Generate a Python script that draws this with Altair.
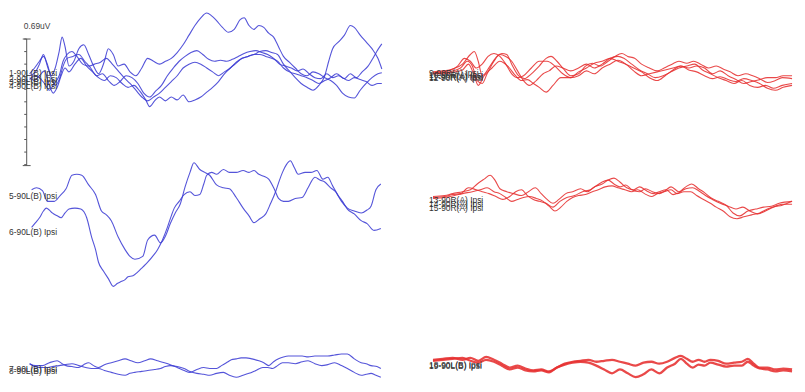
import altair as alt
import pandas as pd

# ---- traces: (position, offset) samples ----
t1 = [(30,68),(35,62),(40,55),(44,50),(48,58),(52,70),(56,62),(60,45),(63,30),(66,40),(70,60),(75,55),(80,42),(85,38),(90,48),(95,60),(100,68),(106,55),(110,42),(115,48),(120,60),(126,58),(132,66),(138,70),(144,62),(150,52),(156,55),(162,58),(168,55),(174,52),(180,46),(186,38),(192,28),(198,18),(204,10),(210,5),(215,8),(220,13),(226,20),(232,25),(238,22),(244,12),(248,10),(253,18),(258,22),(263,18),(268,20),(273,26),(278,30),(283,40),(288,50),(294,56),(300,62),(306,68),(312,70),(318,66),(324,68),(330,72),(336,75),(342,80),(348,88),(354,92),(360,93),(366,85),(372,78),(378,72),(384,68),(388,67)]
t2 = [(30,72),(35,75),(40,70),(45,65),(50,80),(54,88),(58,82),(62,70),(66,62),(70,66),(76,58),(82,52),(88,60),(94,66),(100,72),(106,75),(112,70),(118,72),(124,78),(130,82),(136,80),(142,86),(148,95),(152,102),(157,96),(162,92),(168,96),(174,92),(180,95),(186,90),(192,97),(198,95),(204,92),(210,87),(216,82),(222,76),(228,68),(234,62),(240,57),(246,52),(252,50),(258,48),(264,45),(270,44),(276,46),(282,48),(288,58),(294,65),(300,72),(306,78),(312,82),(318,85),(324,80),(330,70),(334,55),(338,42),(344,35),(350,28),(356,18),(360,20),(366,28),(372,35),(378,42),(384,52),(388,63)]
t3 = [(30,70),(36,66),(40,58),(44,48),(48,60),(52,72),(56,80),(60,74),(64,60),(68,52),(74,50),(80,48),(86,55),(92,62),(98,70),(104,68),(110,75),(116,80),(122,76),(128,70),(134,72),(140,78),(146,88),(152,92),(158,86),(164,80),(170,70),(176,62),(182,55),(188,50),(194,46),(200,44),(206,48),(212,53),(218,55),(224,54),(230,55),(236,53),(242,50),(248,47),(254,45),(260,44),(266,46),(272,48),(278,52),(284,58),(290,60),(296,62),(302,65),(308,63),(314,68),(320,72),(326,73),(332,68),(338,72),(344,70),(350,73),(356,68),(362,72),(368,66),(374,60),(380,50),(384,43),(388,37)]
t4 = [(30,74),(35,70),(40,72),(45,78),(50,85),(55,78),(60,70),(64,55),(68,48),(73,45),(78,50),(84,58),(90,60),(96,58),(102,56),(108,52),(114,58),(120,65),(126,72),(132,78),(138,85),(144,92),(150,96),(156,92),(162,88),(168,82),(174,76),(180,70),(186,62),(192,58),(198,56),(204,58),(210,62),(216,66),(222,70),(228,66),(234,62),(240,56),(246,52),(252,50),(258,48),(264,48),(270,50),(276,52),(282,55),(288,62),(294,66),(300,68),(306,70),(312,72),(318,75),(324,78),(330,75),(336,72),(342,68),(348,72),(354,75),(360,72),(366,74),(372,76),(378,80),(384,78),(388,78)]
t5 = [(32,188),(37,186),(43,189),(48,200),(55,200),(61,194),(67,187),(73,173),(78,172),(83,173),(90,183),(97,193),(103,210),(108,214),(113,220),(120,237),(127,250),(132,257),(137,260),(145,257),(150,240),(157,235),(163,243),(168,236),(173,223),(178,212),(183,203),(188,185),(193,170),(197,160),(203,167),(208,170),(213,173),(220,183),(227,186),(233,187),(240,196),(247,207),(253,215),(258,222),(264,218),(270,213),(275,202),(280,190),(284,178),(287,170),(291,162),(295,158),(299,165),(303,172),(310,170),(316,170),(322,168),(328,177),(333,175),(338,184),(343,193),(348,200),(353,208),(360,213),(367,220),(373,223),(380,230),(387,228)]
t6 = [(32,227),(36,222),(40,217),(44,210),(47,207),(50,209),(53,212),(58,215),(62,217),(66,212),(70,208),(76,207),(82,208),(88,217),(93,237),(97,250),(100,263),(105,272),(110,280),(115,288),(119,285),(123,283),(127,281),(130,278),(135,277),(140,273),(145,268),(150,263),(155,257),(160,250),(165,240),(170,227),(174,215),(177,207),(182,200),(187,193),(193,190),(198,194),(203,193),(207,182),(210,173),(215,170),(220,172),(227,167),(233,170),(240,170),(247,168),(253,170),(258,168),(263,172),(268,174),(273,177),(279,188),(283,197),(288,200),(293,200),(300,197),(307,196),(313,186),(320,175),(325,178),(330,180),(336,186),(341,190),(347,200),(353,207),(360,210),(367,212),(373,209),(377,205),(382,188),(387,182)]
t7 = [(30,368),(36,370),(43,370),(50,367),(58,365),(63,368),(67,370),(73,371),(80,372),(85,369),(90,367),(95,370),(100,372),(106,369),(113,367),(120,365),(127,363),(133,365),(140,367),(147,365),(153,363),(160,365),(167,367),(173,369),(180,372),(187,375),(193,377),(200,374),(207,372),(213,373),(220,373),(225,370),(230,367),(235,364),(240,363),(245,362),(250,362),(256,363),(263,365),(268,367),(273,370),(278,366),(283,363),(288,361),(293,360),(300,360),(307,360),(313,361),(320,360),(327,360),(333,360),(340,359),(347,358),(353,358),(360,363),(367,367),(372,368),(377,370),(383,371),(387,373)]
t8 = [(30,368),(35,371),(40,372),(47,372),(53,371),(60,370),(66,369),(73,368),(80,370),(87,372),(93,373),(100,373),(106,375),(113,377),(120,379),(127,380),(132,378),(137,377),(144,376),(150,375),(157,374),(163,373),(168,371),(173,370),(180,371),(187,373),(193,376),(200,378),(207,379),(213,380),(220,378),(227,377),(233,380),(240,382),(247,380),(253,378),(260,375),(267,372),(272,372),(277,373),(282,370),(287,367),(293,367),(300,368),(307,366),(313,365),(320,368),(327,370),(333,369),(340,367),(347,370),(353,373),(360,377),(367,380),(372,379),(377,378),(382,380),(387,382)]
t9 = [(440,66),(450,65),(460,63),(470,58),(478,48),(482,45),(486,55),(490,70),(498,60),(505,50),(510,47),(515,48),(520,58),(527,70),(533,73),(540,68),(548,60),(555,52),(560,50),(566,55),(572,62),(580,70),(588,68),(595,60),(602,57),(610,60),(618,55),(625,50),(632,47),(638,50),(645,52),(652,58),(660,62),(668,65),(675,62),(683,58),(690,55),(698,57),(705,55),(712,58),(720,62),(728,60),(735,63),(742,66),(750,70),(758,68),(765,70),(772,73),(780,77),(788,75),(795,72),(805,73)]
t10 = [(440,68),(450,67),(460,65),(468,62),(475,55),(480,60),(485,75),(490,78),(495,68),(502,55),(508,48),(514,50),(520,55),(526,65),(532,75),(538,80),(545,75),(552,68),(558,65),(565,60),(572,62),(580,65),(588,62),(596,58),(604,62),(612,58),(620,52),(628,50),(634,52),(642,58),(650,64),(658,68),(666,72),(674,70),(682,66),(690,62),(698,60),(706,58),(714,64),(722,68),(730,72),(738,75),(746,78),(754,75),(762,80),(770,82),(778,80),(786,83),(795,80),(805,78)]
t11 = [(440,67),(450,66),(458,64),(465,60),(472,52),(478,55),(484,62),(490,58),(496,50),(502,47),(508,50),(514,58),(520,68),(526,72),(532,70),(540,62),(548,55),(556,55),(564,60),(572,68),(580,72),(588,66),(596,62),(604,57),(612,55),(620,52),(628,55),(636,58),(644,62),(652,66),(660,72),(668,75),(676,70),(684,64),(692,60),(700,62),(708,60),(716,62),(724,68),(732,65),(740,70),(748,74),(756,78),(764,76),(772,74),(780,72),(788,72),(796,70),(805,70)]
t12 = [(440,68),(452,68),(462,66),(470,64),(476,58),(482,70),(486,80),(492,70),(500,62),(508,55),(516,60),(524,70),(530,75),(536,74),(542,78),(548,82),(555,87),(562,80),(570,72),(580,72),(588,70),(596,65),(604,68),(612,62),(620,58),(628,54),(636,58),(644,65),(652,70),(660,68),(668,66),(676,64),(684,62),(692,60),(700,64),(708,66),(716,70),(724,73),(732,71),(740,74),(748,76),(756,73),(764,75),(772,78),(780,83),(788,85),(796,82),(805,80)]
t13 = [(440,195),(452,194),(460,192),(470,190),(478,188),(485,182),(492,177),(498,173),(503,178),(508,187),(515,190),(522,192),(530,194),(537,190),(544,186),(550,192),(556,198),(562,202),(568,198),(575,192),(582,190),(590,187),(597,190),(604,185),(612,182),(618,178),(624,176),(630,180),(637,186),(644,188),(650,185),(657,189),(664,192),(670,190),(677,188),(684,193),(690,191),(697,187),(704,186),(710,189),(717,194),(724,198),(732,202),(740,205),(748,208),(755,206),(762,210),(770,213),(778,210),(786,206),(795,204),(805,200)]
t14 = [(440,196),(452,195),(460,193),(468,192),(476,186),(484,188),(490,190),(497,192),(504,195),(511,198),(518,195),(524,190),(530,188),(536,194),(542,198),(548,200),(555,202),(562,206),(569,200),(576,196),(584,194),(592,190),(600,188),(606,184),(612,180),(618,178),(624,182),(630,185),(636,183),(642,188),(650,190),(656,187),(663,190),(670,192),(676,189),(682,185),(690,190),(697,185),(703,182),(710,187),(716,191),(722,196),(730,200),(738,204),(745,212),(752,215),(760,210),(768,208),(776,206),(784,205),(792,202),(805,200)]
t15 = [(440,197),(452,196),(462,194),(470,192),(480,190),(488,188),(495,186),(502,190),(508,192),(514,196),(520,200),(526,198),(532,196),(538,195),(545,197),(552,200),(558,205),(564,210),(570,206),(576,200),(582,196),(588,194),(595,193),(602,190),(608,188),(615,185),(622,184),(628,186),(635,188),(642,190),(648,188),(655,192),(662,195),(668,192),(675,190),(682,188),(688,192),(695,190),(702,190),(708,194),(715,198),(722,202),(728,206),(735,210),(742,216),(749,218),(756,216),(764,214),(772,212),(780,208),(788,205),(796,203),(805,203)]
t18 = [(440,364),(450,363),(460,362),(470,364),(478,362),(486,365),(494,361),(502,364),(510,368),(518,372),(526,370),(534,373),(542,375),(550,374),(558,376),(566,372),(574,368),(582,366),(590,365),(598,364),(606,366),(614,365),(622,364),(630,366),(638,368),(646,370),(654,367),(662,366),(670,368),(678,366),(686,362),(692,360),(698,363),(704,366),(710,364),(716,366),(722,364),(730,365),(738,368),(746,367),(754,366),(760,363),(766,368),(772,372),(780,372),(788,374),(796,373),(805,374)]
t19 = [(440,365),(450,364),(460,363),(470,362),(478,365),(486,367),(494,364),(502,366),(510,370),(518,374),(526,372),(534,375),(542,376),(550,375),(558,377),(566,372),(574,369),(582,367),(590,366),(598,367),(606,370),(614,374),(622,378),(630,374),(638,378),(646,382),(654,379),(662,374),(670,378),(678,372),(686,368),(692,363),(698,368),(704,372),(710,369),(716,370),(722,367),(730,369),(738,371),(746,370),(754,370),(760,366),(766,370),(772,373),(780,374),(788,376),(796,375),(805,376)]

trace_names = ["1-90L(B) Ipsi","2-90L(B) Ipsi","3-90L(B) Ipsi","4-90L(B) Ipsi",
               "5-90L(B) Ipsi","6-90L(B) Ipsi","7-90L(B) Ipsi","8-90L(B) Ipsi",
               "9-90R(A) Ipsi","10-90R(A) Ipsi","11-90R(A) Ipsi","12-90R(A) Ipsi",
               "13-90R(A) Ipsi","14-90R(A) Ipsi","15-90R(A) Ipsi",
               "18-90L(B) Ipsi","19-90L(B) Ipsi"]
trace_data = [t1,t2,t3,t4,t5,t6,t7,t8,t9,t10,t11,t12,t13,t14,t15,t18,t19]
trace_side = ["L"]*8 + ["R"]*9

label_x = [9,9,9,9, 9,9, 9,9, 436,436,436,436, 436,436,436, 436,436]
label_y = [67,73,76,81, 195,232, 374,376, 67,69,71,72, 199,203,207, 369,370]

scale_ticks = [32,45,58,71,84,97,110,123,136,149,162]
scale_label = "0.69uV"

BLUE = "#3c3cd4"
RED = "#e63030"

rows = []
for name, pts, side in zip(trace_names, trace_data, trace_side):
    thick = name.startswith("18") or name.startswith("19")
    for i, (x, y) in enumerate(pts):
        rows.append({"trace": name, "i": i, "x": x, "y": y,
                     "col": BLUE if side == "L" else RED,
                     "w": 2.3 if thick else 1.1})
df = pd.DataFrame(rows)

xs = alt.Scale(domain=[8, 805], nice=False, zero=False)
ys = alt.Scale(domain=[8, 384], nice=False, zero=False, reverse=True)

lines = alt.Chart(df).mark_line(interpolate="monotone", opacity=0.88).encode(
    x=alt.X("x:Q", scale=xs, axis=None),
    y=alt.Y("y:Q", scale=ys, axis=None),
    detail="trace:N",
    order="i:Q",
    color=alt.Color("col:N", scale=None),
    strokeWidth=alt.StrokeWidth("w:Q", scale=None),
)

lab_df = pd.DataFrame({"label": trace_names, "x": label_x, "y": label_y})
labels = alt.Chart(lab_df).mark_text(
    align="left", baseline="middle", fontSize=8.5, font="Liberation Sans", color="#333333"
).encode(x=alt.X("x:Q", scale=xs), y=alt.Y("y:Q", scale=ys), text="label:N")

bar_df = pd.DataFrame({"x": [27], "y": [scale_ticks[0]], "y2": [163]})
bar = alt.Chart(bar_df).mark_rule(color="#555555", strokeWidth=1).encode(
    x=alt.X("x:Q", scale=xs), y=alt.Y("y:Q", scale=ys), y2="y2:Q")

tick_df = pd.DataFrame({"y": scale_ticks})
tick_df["x"] = 24.5
tick_df["x2"] = 27
ticks = alt.Chart(tick_df).mark_rule(color="#555555", strokeWidth=1).encode(
    x=alt.X("x:Q", scale=xs), x2="x2:Q", y=alt.Y("y:Q", scale=ys))

cap_df = pd.DataFrame({"y": [32, 163], "x": [23, 23], "x2": [31, 31]})
caps = alt.Chart(cap_df).mark_rule(color="#555555", strokeWidth=1).encode(
    x=alt.X("x:Q", scale=xs), x2="x2:Q", y=alt.Y("y:Q", scale=ys))

sl_df = pd.DataFrame({"t": [scale_label], "x": [24], "y": [19]})
slabel = alt.Chart(sl_df).mark_text(
    align="left", baseline="middle", fontSize=8.5, font="Liberation Sans", color="#444444"
).encode(x=alt.X("x:Q", scale=xs), y=alt.Y("y:Q", scale=ys), text="t:N")

chart = alt.layer(lines, bar, ticks, caps, slabel, labels).properties(
    width=797, height=376,
    autosize=alt.AutoSizeParams(type="fit", contains="padding"),
    padding=0,
).configure_view(stroke=None)

chart.save("out.html", embed_options={"renderer": "svg", "actions": False})
